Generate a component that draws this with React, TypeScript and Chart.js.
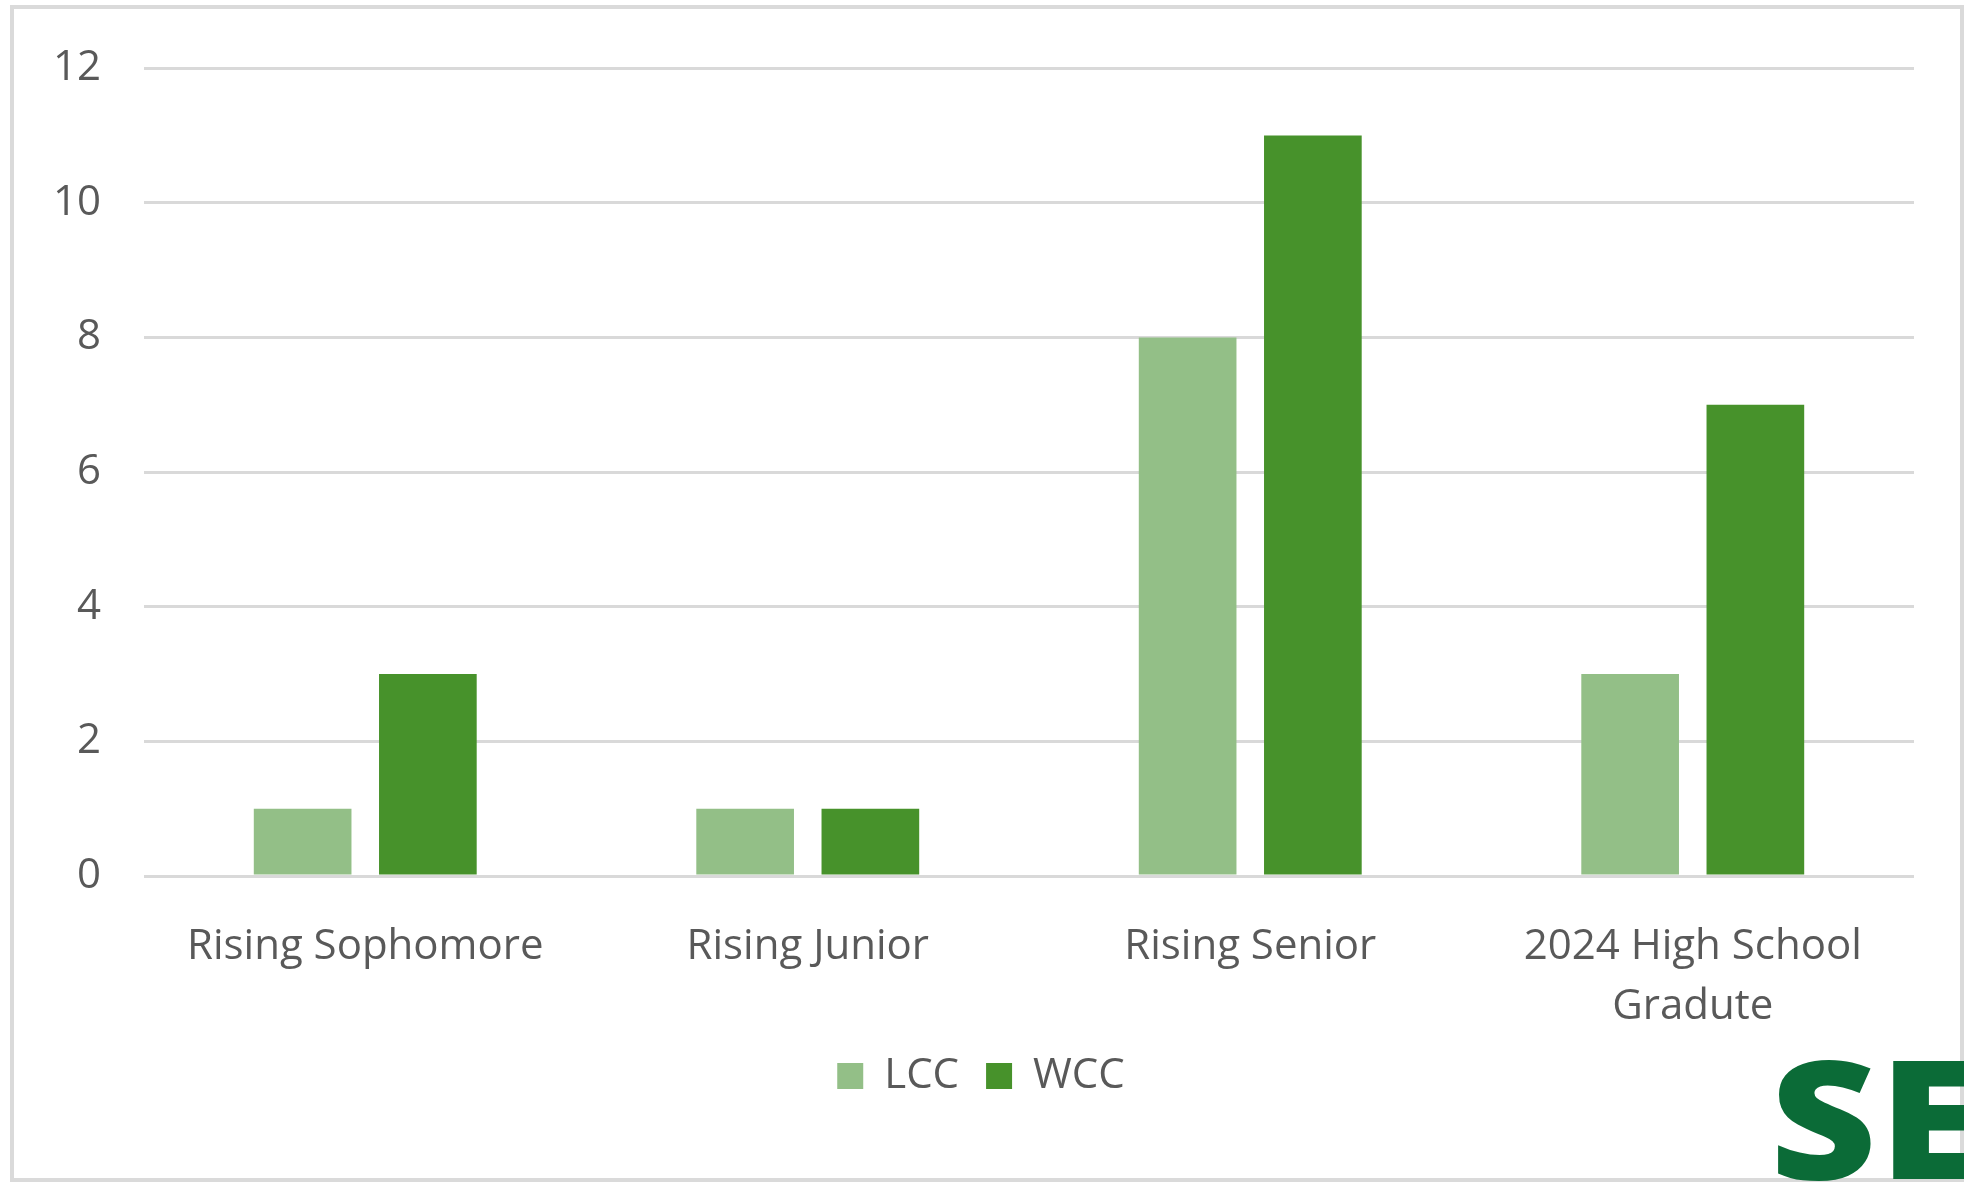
import React, { useEffect, useRef } from "react";
import { Chart, registerables } from "chart.js";

Chart.register(...registerables);

// Student grade level by campus
const categories: (string | string[])[] = [
  "Rising Sophomore",
  "Rising Junior",
  "Rising Senior",
  ["2024 High School", "Gradute"],
];
const seriesNames = ["LCC", "WCC"];
const lccValues = [1, 1, 8, 3];
const wccValues = [3, 1, 11, 7];
const yMax = 12;
const yStep = 2;

const LCC_COLOR = "#93BF87";
const WCC_COLOR = "#47922B";
const TEXT_COLOR = "#595959";
const GRID_COLOR = "#D9D9D9";
const FONT = "'Open Sans', 'Liberation Sans', sans-serif";

export default function App() {
  const canvasRef = useRef<HTMLCanvasElement | null>(null);

  useEffect(() => {
    if (!canvasRef.current) return;
    const chart = new Chart(canvasRef.current, {
      type: "bar",
      data: {
        labels: categories,
        datasets: [
          {
            label: seriesNames[0],
            data: lccValues,
            backgroundColor: LCC_COLOR,
            categoryPercentage: 0.566,
            barPercentage: 0.78,
          },
          {
            label: seriesNames[1],
            data: wccValues,
            backgroundColor: WCC_COLOR,
            categoryPercentage: 0.566,
            barPercentage: 0.78,
          },
        ],
      },
      options: {
        responsive: false,
        animation: false,
        devicePixelRatio: 1,
        font: { family: FONT },
        layout: { padding: { left: 48, right: 50, top: 60, bottom: 75 } },
        plugins: {
          legend: {
            position: "bottom",
            labels: {
              boxWidth: 26,
              boxHeight: 26,
              padding: 27,
              color: TEXT_COLOR,
              font: { family: FONT, size: 42 },
            },
          },
          tooltip: { enabled: false },
        },
        scales: {
          x: {
            grid: { display: false },
            border: { display: false },
            ticks: {
              color: TEXT_COLOR,
              font: { family: FONT, size: 42, lineHeight: 1.43 },
              padding: 33,
              maxRotation: 0,
              autoSkip: false,
            },
            afterFit: (scale: any) => {
              scale.height = 152;
            },
          },
          y: {
            min: 0,
            max: yMax,
            ticks: {
              stepSize: yStep,
              color: TEXT_COLOR,
              font: { family: FONT, size: 42 },
              padding: 43,
            },
            grid: { color: GRID_COLOR, lineWidth: 3, drawTicks: false },
            border: { display: false },
            afterFit: (scale: any) => {
              scale.width = 96;
            },
          },
        },
      },
    });
    return () => chart.destroy();
  }, []);

  return (
    <div
      style={{
        position: "fixed",
        left: 0,
        top: 0,
        width: 1964,
        height: 1182,
        overflow: "hidden",
        background: "#ffffff",
      }}
    >
      <canvas
        ref={canvasRef}
        width={1964}
        height={1182}
        style={{ position: "absolute", left: 0, top: 0, display: "block" }}
      />
      <div
        style={{
          position: "absolute",
          left: 10,
          top: 5,
          width: 1954,
          height: 1177,
          boxSizing: "border-box",
          border: "4px solid #DADADA",
          pointerEvents: "none",
        }}
      />
      <div
        style={{
          position: "absolute",
          left: 1770,
          top: 1033,
          fontFamily: FONT,
          fontWeight: 800,
          fontSize: 165,
          lineHeight: 1,
          color: "#0B6B37",
          whiteSpace: "nowrap",
          letterSpacing: 2,
          transform: "scaleX(1.12)",
          transformOrigin: "left top",
        }}
      >
        SE
      </div>
    </div>
  );
}
